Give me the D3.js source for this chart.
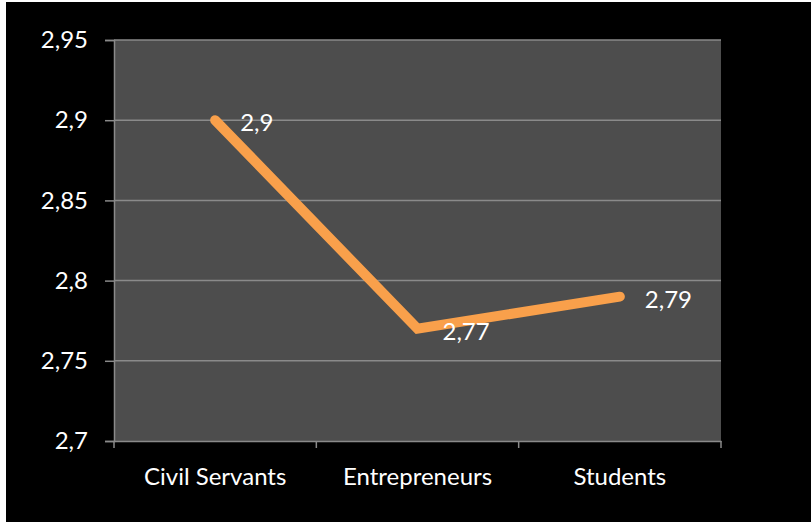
<!DOCTYPE html>
<html>
<head>
<meta charset="UTF-8">
<script src="https://cdn.jsdelivr.net/npm/d3@7"></script>
<style>
body { margin: 0; background: #000; }
svg text { font-family: Lato, "Open Sans", sans-serif; fill: #fff; }
</style>
</head>
<body>
<script>
// data
var categories = ["Civil Servants", "Entrepreneurs", "Students"];
var values = [2.9, 2.77, 2.79];
var yTicks = [2.7, 2.75, 2.8, 2.85, 2.9, 2.95];

var W = 811, H = 522;
var margin = { top: 40, right: 90, bottom: 81, left: 114 };
var size = { width: W - margin.left - margin.right, height: H - margin.top - margin.bottom };

var root = d3.select("body").append("svg")
	.attr("width", W)
	.attr("height", H);

root.append("rect").attr("width", W).attr("height", H).attr("fill", "#000");
// thin white strip left/top as in the picture
root.append("rect").attr("x", 0).attr("y", 0).attr("width", 6).attr("height", H).attr("fill", "#fff");
root.append("rect").attr("x", 0).attr("y", 0).attr("width", W).attr("height", 2).attr("fill", "#fff");

var svg = root.append("g")
	.attr("transform", "translate(" + margin.left + "," + margin.top + ")");

var yScale = d3.scaleLinear().domain([2.7, 2.95]).range([size.height, 0]);
var xBand = d3.scaleBand().domain(categories).range([0, size.width]);
var fmt = function(v) { return String(v).replace(".", ","); };

// plot background
svg.append("rect")
	.attr("width", size.width)
	.attr("height", size.height)
	.attr("fill", "#4d4d4d");

// gridlines
svg.selectAll(".grid")
	.data(yTicks.slice(1))
	.enter().append("line")
	.attr("x1", 0).attr("x2", size.width)
	.attr("y1", function(d) { return yScale(d); })
	.attr("y2", function(d) { return yScale(d); })
	.attr("stroke", "#8a8a8a")
	.attr("stroke-width", 1.5);

// y axis
var yAxis = svg.append("g")
	.call(d3.axisLeft(yScale).tickValues(yTicks).tickFormat(fmt).tickSize(9).tickPadding(17));
yAxis.select(".domain").attr("stroke", "#8a8a8a").attr("stroke-width", 1.5);
yAxis.selectAll(".tick line").attr("stroke", "#8a8a8a").attr("stroke-width", 1.5);
yAxis.selectAll("text").attr("font-size", 24).attr("fill", "#fff").style("font-family", "Lato, sans-serif");

// x axis
var xAxis = svg.append("g")
	.attr("transform", "translate(0," + size.height + ")")
	.call(d3.axisBottom(xBand).tickSize(0).tickPadding(27));
xAxis.select(".domain").attr("stroke", "#8a8a8a").attr("stroke-width", 1.5);
xAxis.selectAll("text").attr("font-size", 24).attr("fill", "#fff").style("font-family", "Lato, sans-serif");
// category boundary ticks
var bounds = categories.map(function(c) { return xBand(c); }).concat([size.width]);
xAxis.selectAll(".btick")
	.data(bounds)
	.enter().append("line")
	.attr("x1", function(d) { return d; }).attr("x2", function(d) { return d; })
	.attr("y1", 0).attr("y2", 7)
	.attr("stroke", "#8a8a8a")
	.attr("stroke-width", 1.5);

// line
var line = d3.line()
	.x(function(d, i) { return xBand(categories[i]) + xBand.bandwidth() / 2; })
	.y(function(d) { return yScale(d); });

svg.append("path")
	.datum(values)
	.attr("d", line)
	.attr("fill", "none")
	.attr("stroke", "#f9a04b")
	.attr("stroke-width", 10)
	.attr("stroke-linecap", "round")
	.attr("stroke-linejoin", "miter");

// data labels
svg.selectAll(".lbl")
	.data(values)
	.enter().append("text")
	.attr("x", function(d, i) { return line.x()(d, i) + 25; })
	.attr("y", function(d) { return yScale(d) + 11; })
	.attr("font-size", 24)
	.text(fmt);
</script>
</body>
</html>
